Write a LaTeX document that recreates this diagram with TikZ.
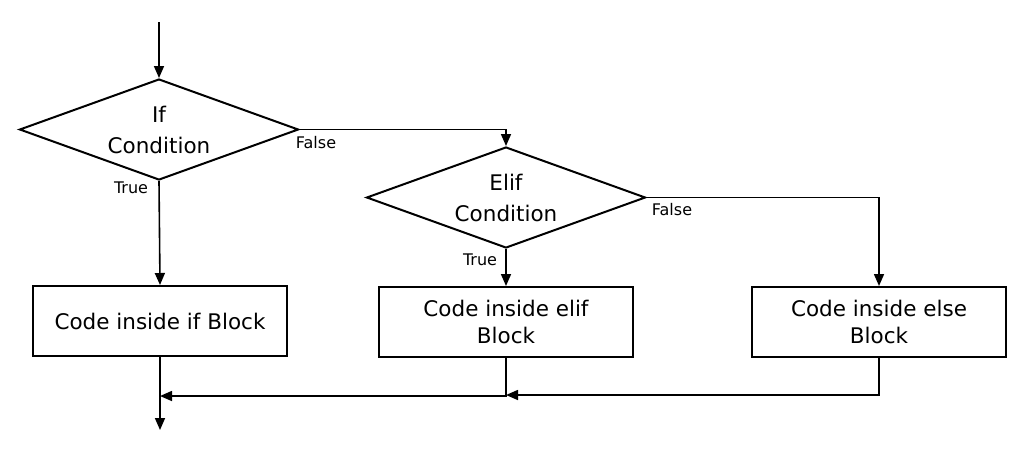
\documentclass[tikz,border=0pt]{standalone}
\usepackage{fontspec}
\setmainfont{DejaVu Sans}
\usetikzlibrary{shapes.geometric,arrows.meta}
\begin{document}
\begin{tikzpicture}[x=1pt,y=-1pt,
  decision/.style={diamond, draw, line width=2pt, minimum width=279pt, minimum height=101pt,
    aspect=2.76, inner sep=0pt, align=center, font=\fontsize{21.5}{31}\selectfont},
  block/.style={rectangle, draw, line width=2pt, minimum width=254pt, minimum height=70pt,
    inner sep=0pt, align=center, font=\fontsize{21.5}{27}\selectfont},
  conn/.style={line width=1.6pt, -{Triangle[length=12pt,width=10pt]}},
  lbl/.style={font=\fontsize{16}{18}\selectfont, inner sep=0pt}]
\useasboundingbox (0,0) rectangle (1024,464);
\coordinate (start) at (159,22);
\coordinate (finish) at (160,430);
\coordinate (m1) at (160,396);
\coordinate (m2) at (506,395);
\node[decision] (d1) at (159,129.5) {If\\Condition};
\node[decision] (d2) at (506,197.5) {Elif\\Condition};
\node[block] (b1) at (160,321) {Code inside if Block};
\node[block] (b2) at (506,322) {Code inside elif\\Block};
\node[block] (b3) at (879,322) {Code inside else\\Block};
\node[lbl] (f1) at (316,143) {False};
\node[lbl] (t1) at (131,188) {True};
\node[lbl] (f2) at (672,210) {False};
\node[lbl] (t2) at (480,260) {True};
\draw[conn] (start) -- (d1.north);
\draw[conn] (d1.east) -| (d2.north);
\draw[conn] (d1.south) -- (b1.north);
\draw[conn] (d2.south) -- (b2.north);
\draw[conn] (d2.east) -| (b3.north);
\draw[conn] (b1.south) -- (finish);
\draw[conn] (b2.south) |- (m1);
\draw[conn] (b3.south) |- (m2);
\end{tikzpicture}
\end{document}
